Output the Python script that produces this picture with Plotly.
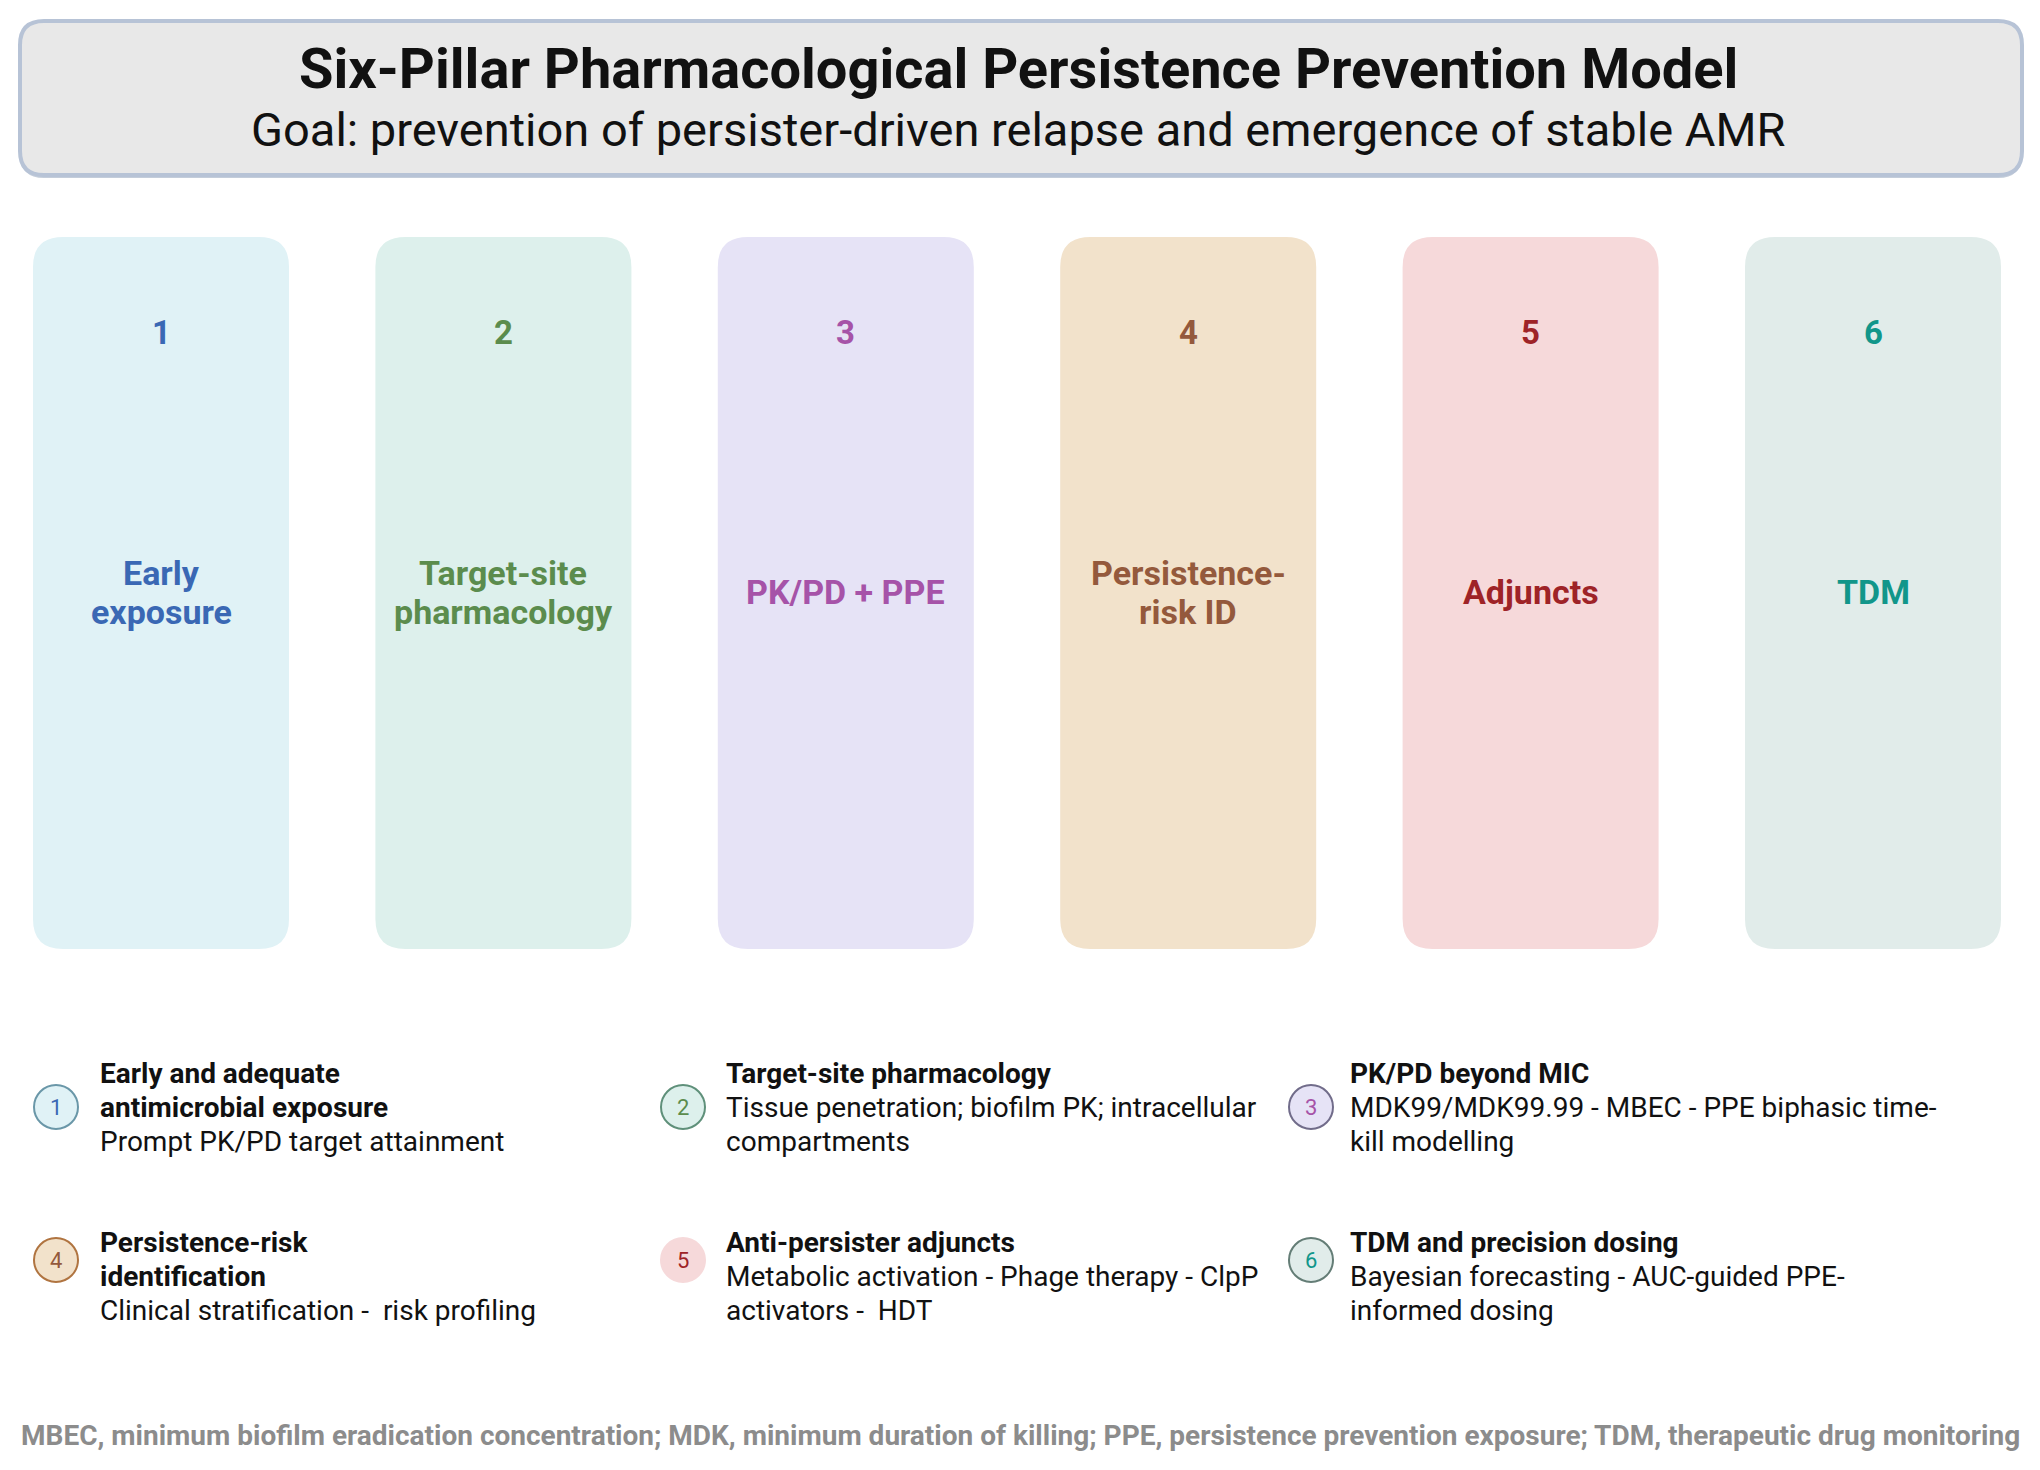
import plotly.graph_objects as go

W, H = 2040, 1470
OFF = 8  # page body margin, so axis units equal window pixels
FONT = "Roboto"

title = "Six-Pillar Pharmacological Persistence Prevention Model"
subtitle = "Goal: prevention of persister-driven relapse and emergence of stable AMR"

pillar_numbers = ["1", "2", "3", "4", "5", "6"]
pillar_labels = ["Early<br>exposure", "Target-site<br>pharmacology", "PK/PD + PPE",
                 "Persistence-<br>risk ID", "Adjuncts", "TDM"]
pillar_fill = ["#e0f2f6", "#ddf0ec", "#e6e3f6", "#f2e2cb", "#f6d9da", "#e1ecea"]
pillar_ink = ["#3a68b4", "#5b8c4d", "#a653a8", "#94593c", "#9e2327", "#11968a"]
circle_edge = ["#6a97a8", "#5f907a", "#716c8a", "#b07440", None, "#647d76"]

item_titles = ["Early and adequate<br>antimicrobial exposure", "Target-site pharmacology",
               "PK/PD beyond MIC", "Persistence-risk<br>identification",
               "Anti-persister adjuncts", "TDM and precision dosing"]
item_details = ["Prompt PK/PD target attainment",
                "Tissue penetration; biofilm PK; intracellular<br>compartments",
                "MDK99/MDK99.99 - MBEC - PPE biphasic time-<br>kill modelling",
                "Clinical stratification -  risk profiling",
                "Metabolic activation - Phage therapy - ClpP<br>activators -  HDT",
                "Bayesian forecasting - AUC-guided PPE-<br>informed dosing"]

footnote = ("MBEC, minimum biofilm eradication concentration; MDK, minimum duration of killing; "
            "PPE, persistence prevention exposure; TDM, therapeutic drug monitoring")


def rounded_rect(x0, y0, x1, y1, r):
    return (f"M {x0+r},{y0} L {x1-r},{y0} Q {x1},{y0} {x1},{y0+r} "
            f"L {x1},{y1-r} Q {x1},{y1} {x1-r},{y1} L {x0+r},{y1} "
            f"Q {x0},{y1} {x0},{y1-r} L {x0},{y0+r} Q {x0},{y0} {x0+r},{y0} Z")


fig = go.Figure()
shapes = []
annotations = []

# header box
shapes.append(dict(type="path", path=rounded_rect(20, 24, 2022, 178, 24),
                   fillcolor="#c4cdda", line=dict(width=0), layer="below"))
shapes.append(dict(type="path", path=rounded_rect(20, 21, 2022, 175, 24),
                   fillcolor="#e8e8e8", line=dict(color="#b7c3d6", width=4), layer="below"))
annotations.append(dict(x=1018, y=69, text=f"<b>{title}</b>",
                        font=dict(family=FONT, size=56, color="#111111")))
annotations.append(dict(x=1018, y=129, text=subtitle,
                        font=dict(family=FONT, size=47, color="#111111")))

# pillars
pillar_w, pillar_step, pillar_left = 256, 342.4, 33
label_step = 39
for i, num in enumerate(pillar_numbers):
    x0 = pillar_left + i * pillar_step
    cx = x0 + pillar_w / 2
    shapes.append(dict(type="path", path=rounded_rect(x0, 237, x0 + pillar_w, 949, 30),
                       fillcolor=pillar_fill[i], line=dict(width=0), layer="below"))
    annotations.append(dict(x=cx, y=332, text=f"<b>{num}</b>",
                            font=dict(family=FONT, size=33, color=pillar_ink[i])))
    lines = pillar_labels[i].split("<br>")
    y_first = 592 - (len(lines) - 1) * label_step / 2
    for k, line in enumerate(lines):
        annotations.append(dict(x=cx, y=y_first + k * label_step, text=f"<b>{line}</b>",
                                font=dict(family=FONT, size=34, color=pillar_ink[i])))

# numbered key below the pillars
circle_x = [56, 683, 1311]
text_x = [98, 724, 1348]
circle_y = [1107, 1260]
line_y0 = [1073, 1242]
line_step = 34
rad = 22
for i, num in enumerate(pillar_numbers):
    row, col = divmod(i, 3)
    cx, cy = circle_x[col], circle_y[row]
    edge = circle_edge[i]
    shapes.append(dict(type="circle", x0=cx - rad, x1=cx + rad, y0=cy - rad, y1=cy + rad,
                       fillcolor=pillar_fill[i],
                       line=dict(color=edge or pillar_fill[i], width=2)))
    annotations.append(dict(x=cx, y=cy, text=num,
                            font=dict(family=FONT, size=22, color=pillar_ink[i])))
    lines = [f"<b>{t}</b>" for t in item_titles[i].split("<br>")] + item_details[i].split("<br>")
    for k, line in enumerate(lines):
        annotations.append(dict(x=text_x[col], y=line_y0[row] + k * line_step,
                                xanchor="left", align="left", text=line,
                                font=dict(family=FONT, size=28, color="#111111")))

annotations.append(dict(x=1020, y=1435, text=f"<b>{footnote}</b>",
                        font=dict(family=FONT, size=28, color="#8c8c8c")))

for a in annotations:
    a.update(xref="x", yref="y", showarrow=False)
    a.setdefault("xanchor", "center")
    a.setdefault("yanchor", "middle")

for s in shapes:
    s.update(xref="x", yref="y")

fig.update_layout(
    width=W, height=H,
    margin=dict(l=0, r=0, t=0, b=0),
    paper_bgcolor="white", plot_bgcolor="white",
    xaxis=dict(range=[OFF, W + OFF], visible=False, fixedrange=True),
    yaxis=dict(range=[H + OFF, OFF], visible=False, fixedrange=True),
    shapes=shapes, annotations=annotations,
    showlegend=False,
)

fig.write_html("out.html")
